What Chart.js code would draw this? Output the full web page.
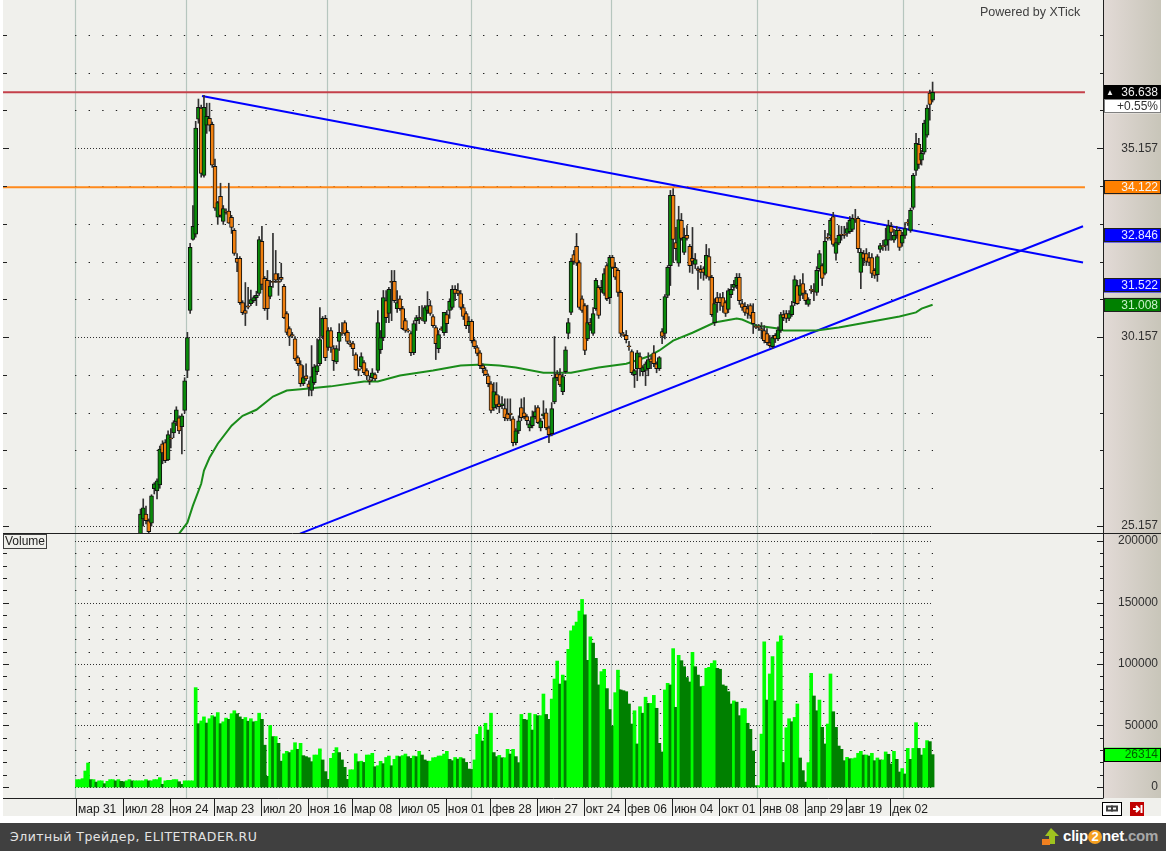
<!DOCTYPE html>
<html>
<head>
<meta charset="utf-8">
<title>Volume chart</title>
<script src="https://cdn.jsdelivr.net/npm/chart.js@4/dist/chart.umd.min.js"></script>
<style>
html, body { margin: 0; padding: 0; background: #fff; width: 1166px; height: 851px; overflow: hidden; }
#chart { position: absolute; left: 0; top: 0; }
#footer { position: absolute; left: 0; top: 823px; width: 1166px; height: 28px; background: #404040; }
#footer .left { position: absolute; left: 10px; top: 6px; color: #e4e4e4; font: 12.5px "DejaVu Sans", sans-serif; letter-spacing: 0.5px; white-space: nowrap; }
#footer .right { position: absolute; left: 1063px; top: 4px; font: bold 15px "Liberation Sans", sans-serif; color: #fff; letter-spacing: -0.2px; white-space: nowrap; }
#footer .right i { font-style: normal; display: inline-block; width: 14px; height: 14px; line-height: 14px; text-align: center; border-radius: 7px; background: #f5a020; font-size: 13px; }
#footer .right span { color: #a8a8a8; }
#footer svg { position: absolute; left: 1041px; top: 4px; }
</style>
</head>
<body>
<canvas id="chart" width="1166" height="817"></canvas>
<div id="footer">
    <div class="left">Элитный Трейдер, ELITETRADER.RU</div>
    <svg width="20" height="20"><path d="M10 1 L18 9 H14 V17 H8 V9 H4 Z" fill="#9fc31f"/><rect x="1" y="12" width="8" height="6" fill="#f08020"/></svg>
    <div class="right">clip<i>2</i>net<span>.com</span></div>
</div>
<script>
const axisLabels = ['мар 31', 'июл 28', 'ноя 24', 'мар 23', 'июл 20', 'ноя 16', 'мар 08', 'июл 05', 'ноя 01', 'фев 28', 'июн 27', 'окт 24', 'фев 06', 'июн 04', 'окт 01', 'янв 08', 'апр 29', 'авг 19', 'дек 02'];
const axisLabelBars = [0, 17, 34, 50, 67, 84, 100, 117, 134, 150, 167, 184, 199, 216, 233, 248, 264, 279, 295];
const yearLineBars = [-0.5, 39.8, 90.8, 142.8, 193.6, 246.5, 299.3];

const priceTicks = [25.157, 26.157, 27.157, 28.157, 29.157, 30.157, 31.157, 32.157, 33.157, 34.157, 35.157, 36.157, 37.157, 38.157];
const priceLabelled = [25.157, 30.157, 35.157];
const volumeTicks = [0, 10000, 20000, 30000, 40000, 50000, 60000, 70000, 80000, 90000, 100000, 110000, 120000, 130000, 140000, 150000, 160000, 170000, 180000, 190000, 200000];
const volumeLabelled = [0, 50000, 100000, 150000, 200000];

// candles before this bar are below the visible price range
const firstCandle = 23;

const opens = [
    24.95, 25.34, 25.47, 25.29, 25.23, 26.14, 26.08, 26.24, 27.33, 27.36,
    26.90, 27.49, 27.62, 27.91, 28.02, 27.78, 28.21, 29.27, 30.86, 32.74,
    32.88, 35.93, 36.22, 34.44, 35.77, 35.95, 35.79, 34.68, 33.33, 33.88,
    33.22, 33.49, 33.49, 33.33, 32.98, 32.24, 32.24, 31.07, 30.86, 30.98,
    31.04, 31.12, 31.20, 31.31, 32.69, 31.71, 31.66, 31.23, 31.63, 31.84,
    31.63, 31.74, 31.50, 30.78, 30.38, 30.22, 30.11, 29.61, 29.43, 28.92,
    29.13, 28.92, 28.74, 28.95, 29.24, 29.45, 30.17, 30.65, 29.88, 30.33,
    29.85, 29.50, 30.04, 30.28, 30.54, 30.28, 30.00, 29.98, 29.69, 29.30,
    29.37, 29.48, 29.27, 29.02, 29.08, 29.16, 29.27, 29.82, 30.14, 31.12,
    30.78, 31.63, 31.63, 30.91, 31.17, 30.91, 30.59, 30.34, 30.25, 29.74,
    30.59, 30.62, 30.68, 30.57, 30.86, 30.99, 30.70, 30.41, 29.85, 30.38,
    30.27, 30.75, 30.86, 30.94, 31.42, 31.39, 31.31, 30.94, 30.78, 30.46,
    30.57, 30.06, 29.88, 29.74, 29.40, 29.29, 29.13, 28.92, 28.28, 28.63,
    28.39, 28.34, 28.26, 28.12, 28.14, 27.99, 27.36, 27.67, 28.29, 28.15,
    28.05, 27.75, 27.81, 28.05, 28.29, 27.75, 28.07, 28.15, 27.75, 27.60,
    28.44, 29.18, 29.16, 28.71, 29.24, 30.25, 30.81, 32.34, 32.56, 32.13,
    31.17, 30.99, 30.11, 30.54, 30.25, 30.91, 31.47, 31.42, 31.31, 32.05,
    31.20, 32.27, 32.00, 31.92, 31.34, 30.23, 30.20, 29.92, 29.77, 29.16,
    29.32, 29.64, 29.24, 29.27, 29.32, 29.58, 29.74, 29.45, 29.32, 30.30,
    30.25, 31.26, 32.05, 33.91, 32.66, 32.11, 33.25, 32.40, 32.85, 32.56,
    32.24, 32.08, 31.97, 31.95, 31.97, 31.79, 32.29, 31.74, 30.54, 31.20,
    31.20, 31.20, 31.07, 30.89, 31.28, 31.47, 31.52, 31.74, 31.04, 30.97,
    30.91, 30.99, 30.81, 30.44, 30.44, 30.38, 30.33, 30.25, 30.01, 29.90,
    30.20, 30.11, 30.33, 30.75, 30.78, 30.65, 30.75, 31.07, 31.52, 31.26,
    31.57, 31.31, 31.02, 31.42, 31.39, 31.34, 31.97, 32.05, 31.84, 32.80,
    32.85, 33.35, 32.37, 32.64, 32.88, 32.88, 32.90, 32.95, 33.01, 33.30,
    33.30, 31.87, 32.37, 32.37, 32.26, 32.26, 31.92, 31.81, 32.48, 32.58,
    32.58, 32.72, 33.09, 32.72, 32.85, 32.98, 32.64, 32.85, 33.20, 32.98,
    33.59, 34.57, 35.26, 34.84, 35.05, 35.50, 36.62, 36.43
];
const highs = [
    25.60, 25.87, 25.68, 25.34, 25.98, 26.30, 26.40, 27.27, 27.41, 27.44,
    27.67, 27.73, 27.94, 28.31, 28.07, 28.12, 29.08, 30.28, 32.64, 33.64,
    35.87, 36.46, 36.30, 36.56, 36.35, 36.35, 35.85, 34.87, 33.75, 34.23,
    33.64, 33.55, 34.23, 33.38, 33.03, 32.37, 32.29, 31.12, 31.60, 31.47,
    31.40, 31.25, 31.37, 32.82, 33.09, 31.76, 31.92, 31.66, 32.90, 32.45,
    31.84, 32.11, 31.55, 30.83, 30.43, 30.28, 30.17, 29.66, 29.53, 29.40,
    29.45, 29.00, 29.93, 29.43, 30.11, 30.94, 30.70, 30.73, 30.41, 30.41,
    29.93, 29.93, 30.51, 30.54, 30.59, 30.33, 30.06, 30.04, 29.74, 29.32,
    29.74, 29.53, 29.32, 29.13, 29.32, 29.21, 30.86, 30.33, 31.39, 31.39,
    31.47, 31.92, 31.92, 31.39, 31.25, 30.97, 30.65, 30.38, 30.30, 30.59,
    30.73, 30.97, 30.99, 30.99, 31.36, 31.12, 30.75, 30.46, 30.33, 30.43,
    30.81, 30.86, 31.17, 31.52, 31.52, 31.57, 31.39, 31.02, 30.83, 30.70,
    30.62, 30.11, 29.93, 29.80, 29.45, 29.35, 29.18, 28.98, 28.95, 28.95,
    28.60, 28.58, 28.52, 28.52, 28.52, 28.05, 27.73, 28.07, 28.52, 28.55,
    28.10, 27.94, 28.20, 28.34, 28.34, 28.00, 28.47, 28.26, 27.80, 28.42,
    30.17, 29.27, 29.32, 29.18, 29.90, 30.65, 32.24, 32.45, 32.90, 32.18,
    31.25, 31.04, 31.00, 30.65, 30.94, 31.71, 31.52, 31.66, 31.97, 32.10,
    32.32, 32.32, 32.13, 31.97, 31.39, 30.28, 30.33, 30.04, 29.82, 29.30,
    29.80, 29.74, 29.40, 29.50, 29.74, 29.66, 29.93, 29.50, 29.64, 30.38,
    31.28, 32.05, 34.04, 34.09, 33.06, 33.62, 33.43, 33.04, 33.11, 32.61,
    33.06, 32.37, 32.02, 32.05, 32.02, 32.61, 32.50, 31.79, 31.17, 31.34,
    31.31, 31.34, 31.12, 31.44, 31.55, 31.66, 31.84, 31.84, 31.12, 31.07,
    31.02, 31.04, 31.04, 30.49, 30.49, 30.54, 30.46, 30.38, 30.20, 30.20,
    30.25, 30.43, 30.81, 30.86, 30.86, 30.86, 31.10, 31.78, 31.66, 31.68,
    31.84, 31.39, 31.20, 31.52, 31.57, 32.02, 32.45, 32.10, 32.98, 32.90,
    33.30, 33.46, 32.77, 33.11, 33.09, 33.09, 33.19, 33.35, 33.40, 33.54,
    33.35, 32.50, 32.45, 32.50, 32.40, 32.37, 31.97, 32.34, 32.64, 32.72,
    33.04, 33.25, 33.19, 33.01, 33.09, 33.03, 32.93, 33.19, 33.27, 33.57,
    34.49, 35.55, 35.42, 35.10, 35.90, 36.30, 36.70, 36.91
];
const lows = [
    24.95, 25.15, 25.21, 24.95, 25.15, 26.00, 25.87, 26.15, 26.80, 26.83,
    26.88, 27.22, 27.49, 27.81, 27.60, 27.06, 28.15, 29.08, 30.78, 32.72,
    32.80, 35.82, 34.39, 34.39, 35.55, 35.61, 34.65, 33.51, 33.14, 33.33,
    33.14, 33.41, 33.17, 32.90, 32.32, 31.89, 31.02, 30.75, 30.46, 30.90,
    30.99, 31.07, 30.99, 31.26, 31.41, 30.86, 30.62, 31.17, 31.47, 31.60,
    31.26, 31.63, 30.64, 30.22, 29.93, 30.14, 29.53, 29.40, 28.85, 28.87,
    29.00, 28.60, 28.60, 28.90, 29.16, 29.40, 30.11, 29.53, 29.80, 29.75,
    29.27, 29.45, 29.80, 30.20, 30.20, 29.98, 29.90, 29.66, 29.27, 29.13,
    29.32, 29.16, 29.03, 28.90, 29.00, 29.00, 29.21, 29.72, 30.06, 30.54,
    30.54, 30.59, 31.07, 30.81, 30.86, 30.35, 30.28, 30.28, 29.66, 29.69,
    30.33, 30.51, 30.59, 30.51, 30.78, 30.73, 30.41, 29.56, 29.74, 30.33,
    30.20, 30.27, 30.65, 30.89, 31.12, 31.25, 30.89, 30.62, 30.38, 30.27,
    30.00, 29.85, 29.66, 29.32, 29.21, 29.14, 28.84, 28.15, 28.21, 28.25,
    28.15, 28.26, 27.94, 27.94, 27.94, 27.27, 27.30, 27.60, 27.94, 27.99,
    27.83, 27.67, 27.75, 27.99, 27.86, 27.67, 27.99, 27.70, 27.36, 27.54,
    28.39, 29.00, 28.84, 28.63, 29.20, 30.11, 30.75, 32.08, 32.05, 30.89,
    30.81, 29.69, 30.06, 30.33, 30.20, 30.86, 30.65, 31.34, 31.26, 31.12,
    31.04, 31.97, 31.68, 31.23, 30.17, 30.17, 30.00, 29.80, 29.16, 28.82,
    29.00, 29.13, 29.13, 28.87, 29.13, 29.32, 29.37, 29.21, 29.27, 29.98,
    30.11, 31.20, 31.52, 32.13, 32.19, 32.03, 32.72, 32.34, 32.72, 31.87,
    31.84, 31.97, 31.42, 31.71, 31.66, 31.71, 31.66, 30.70, 30.46, 30.81,
    30.86, 30.81, 30.70, 30.80, 31.20, 31.39, 31.44, 31.02, 30.86, 30.73,
    30.65, 30.65, 30.25, 30.38, 30.33, 30.11, 30.00, 29.95, 29.88, 29.85,
    30.01, 30.06, 30.28, 30.59, 30.54, 30.59, 30.70, 30.99, 31.02, 31.12,
    31.17, 31.02, 30.97, 31.31, 31.12, 31.26, 31.90, 31.52, 31.80, 32.72,
    32.72, 32.56, 32.19, 32.60, 32.72, 32.77, 32.82, 32.90, 32.95, 33.19,
    32.39, 31.44, 32.05, 32.05, 32.05, 31.73, 31.71, 31.63, 32.40, 32.45,
    32.45, 32.45, 32.72, 32.66, 32.77, 32.45, 32.56, 32.77, 33.11, 32.93,
    33.54, 34.44, 34.62, 34.71, 35.00, 35.45, 35.90, 36.38
];
const closes = [
    25.47, 25.63, 25.29, 25.00, 25.95, 26.27, 26.35, 27.19, 27.09, 26.88,
    27.57, 27.46, 27.89, 28.23, 27.67, 28.07, 29.00, 30.14, 32.53, 33.09,
    35.69, 36.24, 34.49, 36.24, 36.00, 35.77, 34.71, 33.57, 33.72, 33.38,
    33.56, 33.46, 33.17, 33.06, 32.37, 32.13, 31.07, 30.80, 30.78, 30.95,
    31.15, 31.20, 31.26, 32.74, 31.55, 30.91, 30.91, 31.50, 31.60, 31.66,
    31.60, 31.68, 30.67, 30.28, 30.17, 30.19, 29.58, 29.45, 28.92, 29.08,
    29.05, 28.82, 29.11, 29.37, 29.40, 30.09, 30.65, 29.61, 30.33, 29.88,
    29.53, 29.85, 30.28, 30.25, 30.25, 30.04, 29.96, 29.85, 29.29, 29.27,
    29.64, 29.21, 29.13, 28.98, 29.21, 29.05, 30.54, 30.14, 31.20, 30.67,
    31.42, 31.60, 31.12, 31.07, 30.91, 30.38, 30.33, 30.31, 29.74, 30.51,
    30.67, 30.67, 30.65, 30.94, 30.99, 30.78, 30.46, 29.98, 30.22, 30.35,
    30.81, 30.51, 31.10, 31.42, 31.31, 31.31, 30.94, 30.70, 30.46, 30.57,
    30.06, 29.90, 29.72, 29.40, 29.32, 29.16, 28.92, 28.21, 28.71, 28.36,
    28.31, 28.39, 28.02, 27.99, 28.10, 27.36, 27.67, 27.94, 28.02, 28.05,
    27.94, 27.86, 28.05, 28.18, 27.89, 27.94, 28.12, 27.75, 27.57, 28.26,
    29.08, 29.08, 28.89, 29.11, 29.82, 30.54, 32.16, 32.16, 32.11, 30.94,
    30.86, 29.80, 30.54, 30.48, 30.78, 31.66, 30.73, 31.47, 31.84, 31.17,
    32.27, 32.00, 31.74, 31.34, 30.25, 30.20, 30.09, 29.90, 29.21, 29.27,
    29.74, 29.32, 29.35, 29.45, 29.56, 29.50, 29.45, 29.32, 29.61, 30.17,
    31.23, 32.00, 33.91, 32.74, 32.50, 33.27, 32.77, 32.80, 32.77, 32.05,
    32.16, 32.21, 31.92, 31.87, 31.87, 32.32, 31.74, 30.75, 31.04, 31.07,
    31.07, 30.97, 30.78, 31.39, 31.42, 31.55, 31.74, 31.12, 30.94, 30.81,
    30.78, 30.73, 30.51, 30.41, 30.41, 30.33, 30.06, 30.01, 29.93, 30.14,
    30.11, 30.35, 30.75, 30.67, 30.65, 30.78, 30.99, 31.68, 31.04, 31.52,
    31.31, 31.12, 31.15, 31.39, 31.36, 31.92, 32.37, 31.71, 32.69, 32.77,
    33.25, 32.61, 32.66, 32.85, 32.85, 32.85, 33.03, 33.25, 33.30, 33.27,
    32.50, 32.40, 32.24, 32.16, 32.13, 31.84, 31.79, 32.29, 32.58, 32.55,
    32.74, 33.11, 32.93, 32.85, 32.98, 32.53, 32.85, 33.03, 33.17, 33.51,
    34.44, 35.29, 34.73, 35.02, 35.82, 36.22, 36.32, 36.64
];

const volumes = [
    6000, 6000, 6800, 13000, 19500, 6000, 6000, 4000, 5000, 5000,
    2700, 4600, 6000, 6000, 5000, 6000, 4600, 4300, 5000, 6000,
    5000, 5000, 5000, 5000, 5000, 6000, 5000, 5000, 6000, 6000,
    7600, 2200, 5000, 5400, 5400, 6000, 6000, 4300, 2200, 5000,
    5000, 5000, 5000, 80800, 51500, 53700, 57000, 52000, 55500, 58000,
    57000, 60500, 51500, 53000, 56000, 55000, 59600, 62000, 59600, 57000,
    55000, 56500, 53500, 55500, 53000, 53500, 60000, 55000, 34000, 8700,
    50000, 41000, 41000, 35500, 21000, 27000, 29000, 28000, 30000, 36000,
    30600, 35500, 25500, 24700, 23800, 20600, 26000, 26000, 31000, 22000,
    12500, 6200, 23300, 27400, 32000, 28000, 22000, 16000, 6200, 14000,
    14000, 27000, 20600, 21000, 20000, 26000, 26000, 27400, 16500, 17300,
    20900, 19000, 24000, 25200, 17300, 22500, 25200, 24700, 25500, 26800,
    24700, 23300, 25200, 24700, 29000, 26000, 22000, 21000, 21000, 23800,
    24000, 25200, 25200, 26800, 29000, 22500, 21400, 24000, 22700, 24000,
    23000, 20000, 14600, 14300, 22000, 42800, 49000, 37400, 51800, 46300,
    60000, 28000, 24700, 25700, 23800, 23800, 30600, 26800, 30600, 24700,
    19800, 59000, 55000, 54500, 60000, 46300, 59000, 58000, 58000, 75600,
    59000, 55000, 71500, 87800, 102400, 83700, 91000, 86400, 112000, 127000,
    131000, 134000, 143000, 152500, 140000, 103000, 122000, 117000, 104600, 83000,
    93800, 95700, 80000, 63000, 49500, 76700, 95000, 78900, 78300, 77500,
    67500, 51200, 62000, 35000, 65300, 60000, 73000, 68000, 68000, 74500,
    64000, 35500, 28500, 78900, 84300, 83000, 112500, 64800, 107000, 102700,
    97800, 89000, 85400, 109500, 97800, 91000, 81600, 82000, 96500, 97300,
    100500, 102700, 96500, 95700, 83000, 82000, 77500, 67500, 70000, 69000,
    58000, 63700, 63700, 51800, 46900, 29300, 1100, 1100, 43000, 118000,
    70700, 91900, 106000, 70000, 118000, 123000, 19800, 48200, 55500, 53100,
    56600, 67500, 23600, 13300, 4000, 19800, 92400, 74000, 62000, 70700,
    48500, 35000, 51200, 91900, 61200, 48500, 33300, 30600, 21400, 24100,
    23000, 23000, 23600, 27400, 29000, 26000, 26000, 25200, 27400, 21400,
    23600, 22000, 22000, 28500, 26600, 18700, 29000, 22500, 12200, 15000,
    10600, 31400, 22500, 31400, 52300, 31400, 26000, 31400, 37700, 36900,
    26314
];

const averageBars = [37, 40, 42, 45, 46, 48, 51, 56, 60, 65, 71, 76, 83, 92, 104, 109, 117, 129, 139, 147, 153, 159, 169, 179, 189, 199, 207, 211, 216, 223, 231, 239, 241, 246, 254, 256, 268, 276, 286, 298, 304, 306, 310];
const averageValues = [24.95, 25.24, 25.69, 26.27, 26.62, 26.96, 27.33, 27.81, 28.07, 28.23, 28.58, 28.74, 28.79, 28.85, 28.98, 28.98, 29.14, 29.27, 29.40, 29.43, 29.40, 29.35, 29.21, 29.21, 29.35, 29.45, 29.64, 29.80, 30.06, 30.27, 30.54, 30.65, 30.62, 30.46, 30.38, 30.33, 30.33, 30.41, 30.54, 30.70, 30.81, 30.91, 31.01];

const upperTrendBars = [45.3, 364.5];
const upperTrendValues = [36.54, 32.13];
const lowerTrendBars = [80.8, 364.5];
const lowerTrendValues = [24.95, 33.09];
const levelBars = [-26.8, 365.2];
const redLevel = 36.638;
const orangeLevel = 34.122;

// price tags on the right axis: value, text, background, text colour
const priceTags = [
    [34.122, '34.122', '#ff8000', '#f4f4f4'],
    [32.846, '32.846', '#0000ff', '#e8e8ff'],
    [31.522, '31.522', '#0000ff', '#e8e8ff'],
    [31.008, '31.008', '#008000', '#c8f0c8']
];
const lastVolume = 26314;

const FONT = '"Liberation Sans", Arial, sans-serif';
const PANEL = '#f0f0ec';

function toPoints(bars, values) {
    return bars.map((x, k) => ({ x, y: values[k] }));
}

function hLine(bars, value) {
    return bars.map(x => ({ x, y: value }));
}

// the layout must not reserve extra room for overhanging tick labels
function fixBox(width, height) {
    return s => {
        if (width) s.width = width;
        if (height) s.height = height;
        s.paddingTop = s.paddingBottom = s.paddingLeft = s.paddingRight = 0;
    };
}

function drawTag(ctx, y, h, text, bg, fg, border) {
    ctx.fillStyle = bg;
    ctx.fillRect(1104, y - h / 2, 57, h);
    ctx.strokeStyle = border;
    ctx.lineWidth = 1;
    ctx.strokeRect(1104.5, Math.round(y - h / 2) + 0.5, 56, h - 1);
    ctx.fillStyle = fg;
    ctx.font = '12px ' + FONT;
    ctx.textAlign = 'right';
    ctx.textBaseline = 'middle';
    ctx.fillText(text, 1158, y + 0.5);
}

const paneFurniture = {
    id: 'paneFurniture',
    beforeDraw(chart) {
        const ctx = chart.ctx;
        ctx.save();
        ctx.fillStyle = PANEL;
        ctx.fillRect(3, 0, 1158, 816);
        const grad = ctx.createLinearGradient(1104, 0, 1161, 0);
        grad.addColorStop(0, '#e2dad6');
        grad.addColorStop(1, '#c8c5b9');
        ctx.fillStyle = grad;
        ctx.fillRect(1104, 0, 57, 798);
        ctx.restore();
    },
    beforeDatasetsDraw(chart) {
        const { ctx, scales } = chart;
        ctx.save();
        // year lines
        ctx.strokeStyle = '#b6c6be';
        ctx.lineWidth = 1.2;
        yearLineBars.forEach(b => {
            const x = Math.floor(scales.x.getPixelForValue(b)) + 0.5;
            ctx.beginPath();
            ctx.moveTo(x, 0);
            ctx.lineTo(x, 798);
            ctx.stroke();
        });
        // dotted levels in both panes
        const gx0 = 75, gx1 = 933;
        const dots = (scale, ticks, labelled) => {
            ticks.forEach(v => {
                const y = Math.round(scale.getPixelForValue(v)) + 0.5;
                const major = labelled.includes(v);
                ctx.strokeStyle = major ? '#303030' : '#202020';
                ctx.lineWidth = 1;
                ctx.setLineDash(major ? [1, 2] : [1.4, 12.2]);
                ctx.beginPath();
                ctx.moveTo(gx0, y);
                ctx.lineTo(gx1, y);
                ctx.stroke();
            });
            ctx.setLineDash([]);
        };
        dots(scales.y, priceTicks, priceLabelled);
        dots(scales.yv, volumeTicks, volumeLabelled);
        ctx.restore();
    },
    afterDraw(chart) {
        const { ctx, scales } = chart;
        ctx.save();
        // tick marks on both edges
        ctx.strokeStyle = '#202020';
        ctx.lineWidth = 1;
        const marks = (scale, ticks, labelled) => {
            ticks.forEach(v => {
                const y = Math.round(scale.getPixelForValue(v)) + 0.5;
                const major = labelled.includes(v);
                ctx.beginPath();
                ctx.moveTo(major ? 1097 : 1100, y);
                ctx.lineTo(1103, y);
                ctx.moveTo(3, y);
                ctx.lineTo(major ? 9 : 7, y);
                ctx.stroke();
            });
        };
        marks(scales.y, priceTicks, priceLabelled);
        marks(scales.yv, volumeTicks, volumeLabelled);

        // frame
        ctx.strokeStyle = '#202020';
        ctx.beginPath();
        ctx.moveTo(1103.5, 0);
        ctx.lineTo(1103.5, 798);
        ctx.moveTo(3, 533.5);
        ctx.lineTo(1161, 533.5);
        ctx.moveTo(3, 798.5);
        ctx.lineTo(1103.5, 798.5);
        ctx.stroke();
        // separators of the date axis
        axisLabelBars.forEach(b => {
            const x = Math.round(scales.x.getPixelForValue(b)) - 0.5;
            ctx.beginPath();
            ctx.moveTo(x, 799);
            ctx.lineTo(x, 816);
            ctx.stroke();
        });

        // pane caption and credit
        ctx.fillStyle = PANEL;
        ctx.fillRect(3, 534, 43, 14);
        ctx.strokeStyle = '#404040';
        ctx.strokeRect(3.5, 534.5, 43, 14);
        ctx.fillStyle = '#202020';
        ctx.font = '12px ' + FONT;
        ctx.textAlign = 'left';
        ctx.textBaseline = 'middle';
        ctx.fillText('Volume', 5, 541.5);
        ctx.fillStyle = '#404040';
        ctx.font = '12.5px ' + FONT;
        ctx.fillText('Powered by XTick', 980, 12.5);

        // value tags
        const yRed = scales.y.getPixelForValue(redLevel);
        drawTag(ctx, yRed, 14, '36.638', '#000000', '#f0f0f0', '#000000');
        ctx.fillStyle = '#f0f0f0';
        ctx.font = '8px ' + FONT;
        ctx.textAlign = 'left';
        ctx.fillText('▲', 1106, yRed);
        drawTag(ctx, yRed + 14, 14, '+0.55%', '#ffffff', '#303030', '#808080');
        priceTags.forEach(([v, text, bg, fg]) => {
            drawTag(ctx, scales.y.getPixelForValue(v), 14, text, bg, fg, '#202020');
        });
        drawTag(ctx, scales.yv.getPixelForValue(lastVolume), 14, String(lastVolume), '#00ff00', '#006000', '#000000');

        // link and close buttons
        ctx.fillStyle = '#ffffff';
        ctx.fillRect(1102.5, 802.5, 19, 13);
        ctx.strokeStyle = '#000000';
        ctx.strokeRect(1102.5, 802.5, 19, 13);
        ctx.strokeStyle = '#404040';
        ctx.lineWidth = 2;
        ctx.strokeRect(1107, 806.5, 5, 4);
        ctx.strokeRect(1112, 806.5, 5, 4);
        ctx.fillStyle = '#c00000';
        ctx.fillRect(1130, 802, 14, 14);
        ctx.strokeStyle = '#ffffff';
        ctx.beginPath();
        ctx.moveTo(1133, 809);
        ctx.lineTo(1139, 809);
        ctx.moveTo(1136, 806);
        ctx.lineTo(1139, 809);
        ctx.lineTo(1136, 812);
        ctx.moveTo(1141.5, 805);
        ctx.lineTo(1141.5, 813);
        ctx.stroke();
        ctx.restore();
    }
};

const candleBars = opens.map((o, k) => firstCandle + k);

new Chart(document.getElementById('chart'), {
    type: 'bar',
    plugins: [paneFurniture],
    data: {
        datasets: [
            {
                label: 'Body',
                order: 1,
                grouped: false,
                yAxisID: 'y',
                barThickness: 4,
                minBarLength: 1,
                data: candleBars.map((x, k) => ({ x, y: [opens[k], closes[k]] })),
                backgroundColor: ctx => closes[ctx.dataIndex] >= opens[ctx.dataIndex] ? '#0a8a0a' : '#f08010',
                borderColor: '#101010',
                borderWidth: 1,
                borderSkipped: false
            },
            {
                label: 'Wick',
                order: 2,
                grouped: false,
                yAxisID: 'y',
                barThickness: 1,
                data: candleBars.map((x, k) => ({ x, y: [lows[k], highs[k]] })),
                backgroundColor: '#303030'
            },
            {
                type: 'line',
                label: 'Average',
                order: 3,
                yAxisID: 'y',
                data: toPoints(averageBars, averageValues),
                borderColor: '#1a8c1a',
                borderWidth: 2,
                pointRadius: 0
            },
            {
                type: 'line',
                label: 'Upper trend',
                order: 4,
                yAxisID: 'y',
                data: toPoints(upperTrendBars, upperTrendValues),
                borderColor: '#0000ff',
                borderWidth: 2,
                pointRadius: 0
            },
            {
                type: 'line',
                label: 'Lower trend',
                order: 4,
                yAxisID: 'y',
                data: toPoints(lowerTrendBars, lowerTrendValues),
                borderColor: '#0000ff',
                borderWidth: 2,
                pointRadius: 0
            },
            {
                type: 'line',
                label: 'Red level',
                order: 5,
                yAxisID: 'y',
                data: hLine(levelBars, redLevel),
                borderColor: '#c4404a',
                borderWidth: 2,
                pointRadius: 0
            },
            {
                type: 'line',
                label: 'Orange level',
                order: 5,
                yAxisID: 'y',
                data: hLine(levelBars, orangeLevel),
                borderColor: '#ff8a1c',
                borderWidth: 2,
                pointRadius: 0
            },
            {
                label: 'Volume',
                order: 6,
                grouped: false,
                yAxisID: 'yv',
                barThickness: 3,
                data: volumes.map((v, k) => ({ x: k, y: v })),
                backgroundColor: ctx => {
                    const k = ctx.dataIndex;
                    return k === 0 || volumes[k] >= volumes[k - 1] ? '#00ff00' : '#008000';
                }
            }
        ]
    },
    options: {
        responsive: false,
        animation: false,
        layout: { padding: { left: 3, right: 8, top: 0, bottom: 1 } },
        plugins: {
            legend: { display: false },
            tooltip: { enabled: false }
        },
        scales: {
            x: {
                type: 'linear',
                offset: false,
                min: -26.81,
                max: 371.74,
                grid: { display: false, drawTicks: false },
                border: { display: false },
                afterBuildTicks: s => { s.ticks = axisLabelBars.map(value => ({ value })); },
                afterFit: fixBox(0, 18),
                ticks: {
                    autoSkip: false,
                    maxRotation: 0,
                    align: 'start',
                    labelOffset: 1,
                    padding: 4,
                    color: '#202020',
                    font: { family: FONT, size: 12 },
                    callback: v => axisLabels[axisLabelBars.indexOf(v)]
                }
            },
            y: {
                position: 'right',
                stack: 'panes',
                stackWeight: 534,
                min: 24.94,
                max: 39.083,
                grid: { display: false, drawTicks: false },
                border: { display: false },
                afterBuildTicks: s => { s.ticks = priceLabelled.map(value => ({ value })); },
                afterFit: fixBox(55, 0),
                ticks: {
                    autoSkip: false,
                    crossAlign: 'far',
                    color: '#303030',
                    font: { family: FONT, size: 12 },
                    callback: v => v.toFixed(3)
                }
            },
            yv: {
                position: 'right',
                stack: 'panes',
                stackWeight: 264,
                min: -8950,
                max: 205700,
                grid: { display: false, drawTicks: false },
                border: { display: false },
                afterBuildTicks: s => { s.ticks = volumeLabelled.map(value => ({ value })); },
                afterFit: fixBox(55, 0),
                ticks: {
                    autoSkip: false,
                    crossAlign: 'far',
                    color: '#303030',
                    font: { family: FONT, size: 12 },
                    callback: v => String(v)
                }
            }
        }
    }
});
</script>
</body>
</html>
